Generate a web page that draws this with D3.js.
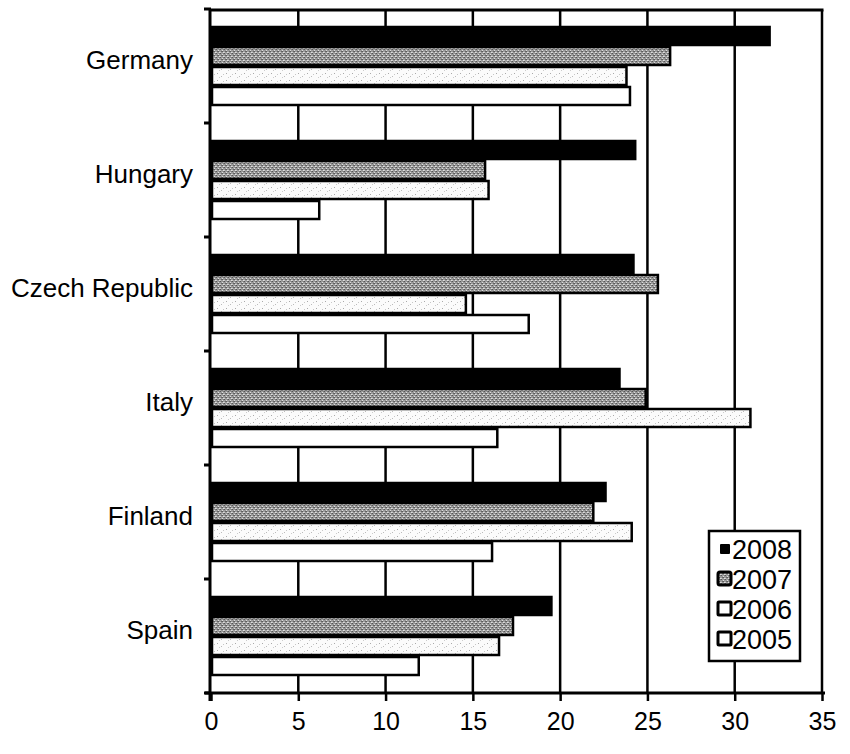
<!DOCTYPE html>
<html>
<head>
<meta charset="utf-8">
<script src="https://cdn.jsdelivr.net/npm/d3@7"></script>
<style>
  html, body { margin: 0; padding: 0; background: #fff; }
  svg { display: block; }
  text { font-family: "Liberation Sans", Arial, sans-serif; fill: #000; }
</style>
</head>
<body>
<svg id="chart" width="850" height="754"></svg>
<script>
// ---- data ----
const categories = ["Germany", "Hungary", "Czech Republic", "Italy", "Finland", "Spain"];
const years = ["2008", "2007", "2006", "2005"];
const v2008 = [32.0, 24.3, 24.2, 23.4, 22.6, 19.5];
const v2007 = [26.3, 15.7, 25.6, 24.9, 21.9, 17.3];
const v2006 = [23.8, 15.9, 14.6, 30.9, 24.1, 16.5];
const v2005 = [24.0, 6.2, 18.2, 16.4, 16.1, 11.9];
const xTicks = [0, 5, 10, 15, 20, 25, 30, 35];

const seriesValues = { "2008": v2008, "2007": v2007, "2006": v2006, "2005": v2005 };

// ---- layout ----
const svg = d3.select("#chart");
const pLeft = 211, pRight = 822, pTop = 9, pBottom = 693;
const FONT = "Liberation Sans, Arial, sans-serif";

const x = d3.scaleLinear().domain([0, 35]).range([pLeft, pRight]);
const y0 = d3.scaleBand().domain(categories).range([pTop, pBottom]).padding(0);
const y1 = d3.scaleBand().domain(years).range([0, y0.bandwidth()]).paddingInner(0).paddingOuter(0.85);

// ---- patterns ----
const defs = svg.append("defs");
const pg = defs.append("pattern").attr("id", "p2007").attr("patternUnits", "userSpaceOnUse")
  .attr("width", 4).attr("height", 4);
pg.append("rect").attr("width", 4).attr("height", 4).attr("fill", "#9a9a9a");
[[0,0,"#555"],[2,1,"#ddd"],[1,2,"#666"],[3,3,"#e0e0e0"],[3,0,"#777"],[0,3,"#ccc"],[2,2,"#5a5a5a"]]
  .forEach(([px, py, c]) => pg.append("rect").attr("x", px).attr("y", py).attr("width", 1).attr("height", 1).attr("fill", c));

const pw = defs.append("pattern").attr("id", "p2006").attr("patternUnits", "userSpaceOnUse")
  .attr("width", 9).attr("height", 7);
pw.append("rect").attr("width", 9).attr("height", 7).attr("fill", "#fbfbfb");
[[1,1,"#aaa"],[5,4,"#bbb"],[7,2,"#c8c8c8"],[3,5,"#ccc"]]
  .forEach(([px, py, c]) => pw.append("rect").attr("x", px).attr("y", py).attr("width", 1).attr("height", 1).attr("fill", c));

const fills = { "2008": "#000", "2007": "url(#p2007)", "2006": "url(#p2006)", "2005": "#fff" };

// ---- gridlines ----
svg.append("g").selectAll("line").data(xTicks.filter(d => d > 0)).join("line")
  .attr("x1", d => x(d)).attr("x2", d => x(d))
  .attr("y1", pTop + 1).attr("y2", pBottom)
  .attr("stroke", "#000").attr("stroke-width", 2.5);

// top border
svg.append("line").attr("x1", pLeft).attr("x2", pRight + 1.5)
  .attr("y1", pTop + 1).attr("y2", pTop + 1)
  .attr("stroke", "#000").attr("stroke-width", 3);

// ---- bars ----
const groups = svg.append("g").selectAll("g").data(categories).join("g")
  .attr("transform", d => `translate(0,${y0(d)})`);

groups.selectAll("rect").data((c, i) => years.map(yr => ({ yr, v: seriesValues[yr][i] })))
  .join("rect")
  .attr("x", x(0) + 1)
  .attr("y", d => y1(d.yr) + 1)
  .attr("width", d => x(d.v) - x(0) - 1)
  .attr("height", y1.bandwidth() - 2)
  .attr("fill", d => fills[d.yr])
  .attr("stroke", "#000")
  .attr("stroke-width", 2.5);

// ---- x axis ----
const xAxis = d3.axisBottom(x).tickValues(xTicks).tickSize(8).tickPadding(11).tickSizeOuter(0);
const gx = svg.append("g").attr("transform", `translate(0,${pBottom})`).call(xAxis);
gx.select(".domain").attr("stroke-width", 3).attr("d", `M${pLeft - 6},0H${pRight + 3}`);
gx.selectAll(".tick line").attr("stroke-width", 2.5);
gx.selectAll(".tick text").style("font-size", "25px").attr("font-family", FONT);

// ---- y axis ----
const yAxis = d3.axisLeft(y0).tickSize(0).tickPadding(17);
const gy = svg.append("g").attr("transform", `translate(${pLeft - 1},0)`).call(yAxis);
gy.select(".domain").attr("stroke-width", 3).attr("d", `M0,${pTop}V${pBottom + 8}`);
gy.selectAll(".tick text").style("font-size", "26px").attr("dy", "0.1em")
  .attr("font-family", FONT);

// boundary ticks on y axis
const bounds = categories.map(c => y0(c)).concat([pBottom]);
svg.append("g").selectAll("line").data(bounds).join("line")
  .attr("x1", pLeft - 7).attr("x2", pLeft)
  .attr("y1", d => d).attr("y2", d => d)
  .attr("stroke", "#000").attr("stroke-width", 3);

// ---- legend ----
const lg = svg.append("g").attr("transform", "translate(709,531)");
lg.append("rect").attr("width", 91).attr("height", 130)
  .attr("fill", "#fff").attr("stroke", "#000").attr("stroke-width", 2.5);

const items = lg.selectAll("g.item").data(years).join("g").attr("class", "item")
  .attr("transform", (d, i) => `translate(0,${18 + i * 30})`);

items.append("rect")
  .attr("x", d => d === "2008" ? 11 : 9)
  .attr("y", d => d === "2008" ? -5 : -7)
  .attr("width", d => d === "2008" ? 10 : 13)
  .attr("height", d => d === "2008" ? 10 : 13)
  .attr("rx", d => d === "2007" ? 2 : 1)
  .attr("fill", d => d === "2008" ? "#000" : (d === "2007" ? "url(#p2007)" : "#fff"))
  .attr("stroke", "#000")
  .attr("stroke-width", d => d === "2008" ? 0 : 3);

items.append("text")
  .attr("x", 23).attr("y", 0).attr("dy", "0.36em")
  .style("font-size", "27px")
  .attr("font-family", FONT)
  .text(d => d);
</script>
</body>
</html>
